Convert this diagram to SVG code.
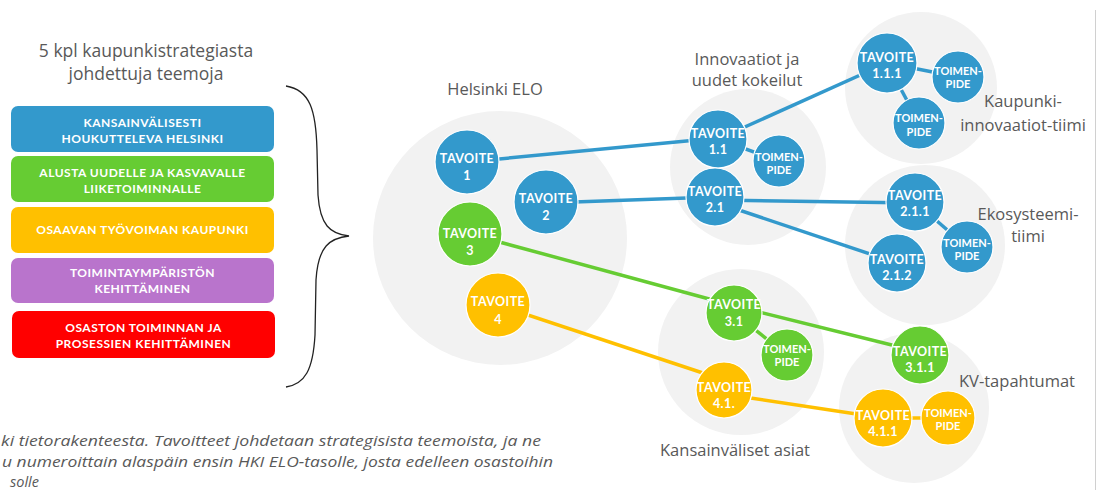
<svg xmlns="http://www.w3.org/2000/svg" width="1104" height="490" viewBox="0 0 1104 490">
<style>
.lbl{font-family:"Open Sans","Liberation Sans",sans-serif;font-size:16.5px;fill:#595959;text-anchor:middle}
.cap{font-family:"Open Sans","Liberation Sans",sans-serif;font-size:14.5px;font-style:italic;fill:#595959}
.bt{font-family:Lato,"Liberation Sans",sans-serif;font-size:12px;font-weight:bold;fill:#fff;text-anchor:middle;letter-spacing:0.5px}
.nt{font-family:Lato,"Liberation Sans",sans-serif;font-size:12.5px;font-weight:bold;fill:#fff;text-anchor:middle;letter-spacing:0.4px}
.tp{font-family:Lato,"Liberation Sans",sans-serif;font-size:11px;font-weight:bold;fill:#fff;text-anchor:middle}
.grp{fill:#f2f2f2}
.b{fill:#3399cc;stroke:#fff;stroke-width:1.2}
.g{fill:#66cc33;stroke:#fff;stroke-width:1.2}
.o{fill:#ffc000;stroke:#fff;stroke-width:1.2}
.lb{stroke:#3399cc;stroke-width:3.5;fill:none}
.lg{stroke:#66cc33;stroke-width:3.5;fill:none}
.lo{stroke:#ffc000;stroke-width:3.5;fill:none}
</style>
<rect width="1104" height="490" fill="#fff"/>
<line x1="1095.5" y1="10" x2="1095.5" y2="490" stroke="#d0d0d0" stroke-width="1"/>

<!-- left column -->
<g id="title">
<text class="lbl" x="146" y="57" style="font-size:17.5px">5 kpl kaupunkistrategiasta</text>
<text class="lbl" x="146" y="80" style="font-size:17.5px">johdettuja teemoja</text>
</g>
<g id="theme1"><rect x="11" y="106" width="263" height="46" rx="7" fill="#3399cc"/>
<text class="bt" x="142.5" y="127">KANSAINVÄLISESTI</text><text class="bt" x="142.5" y="143">HOUKUTTELEVA HELSINKI</text></g>
<g id="theme2"><rect x="11" y="156" width="263" height="46" rx="7" fill="#66cc33"/>
<text class="bt" x="142.5" y="177">ALUSTA UUDELLE JA KASVAVALLE</text><text class="bt" x="142.5" y="193">LIIKETOIMINNALLE</text></g>
<g id="theme3"><rect x="11" y="207" width="263" height="46" rx="7" fill="#ffc000"/>
<text class="bt" x="142.5" y="234">OSAAVAN TYÖVOIMAN KAUPUNKI</text></g>
<g id="theme4"><rect x="11" y="258" width="263" height="45" rx="7" fill="#b974cc"/>
<text class="bt" x="142.5" y="277">TOIMINTAYMPÄRISTÖN</text><text class="bt" x="142.5" y="293">KEHITTÄMINEN</text></g>
<g id="theme5"><rect x="12" y="311" width="263" height="47" rx="7" fill="#ff0000"/>
<text class="bt" x="143.5" y="332">OSASTON TOIMINNAN JA</text><text class="bt" x="143.5" y="348">PROSESSIEN KEHITTÄMINEN</text></g>
<g id="brace"><path d="M286,86 C310,90 316,110 317,150 L318,195 C320,225 330,234 349,236 C330,238 318,246 316,280 L315,335 C313,370 305,384 286,387" fill="none" stroke="#222" stroke-width="1.3"/></g>

<g id="caption">
<text class="cap" x="1" y="446" textLength="540" lengthAdjust="spacingAndGlyphs">ki tietorakenteesta. Tavoitteet johdetaan strategisista teemoista, ja ne</text>
<text class="cap" x="2" y="467" textLength="551" lengthAdjust="spacingAndGlyphs">u numeroittain alaspäin ensin HKI ELO-tasolle, josta edelleen osastoihin</text>
<text class="cap" x="10" y="487">solle</text>
</g>

<!-- group backgrounds -->
<g id="groups">
<circle class="grp" cx="500" cy="238" r="127"/>
<circle class="grp" cx="748" cy="167" r="78"/>
<circle class="grp" cx="921" cy="88" r="76"/>
<circle class="grp" cx="925" cy="245" r="80"/>
<circle class="grp" cx="741" cy="352" r="83"/>
<circle class="grp" cx="914" cy="408" r="75"/>
</g>
<g id="group-labels">
<text class="lbl" x="495" y="95">Helsinki ELO</text>
<text class="lbl" x="747" y="65">Innovaatiot ja</text>
<text class="lbl" x="747" y="86">uudet kokeilut</text>
<text class="lbl" x="1023" y="107">Kaupunki-</text>
<text class="lbl" x="1023" y="131">innovaatiot-tiimi</text>
<text class="lbl" x="1028" y="220">Ekosysteemi-</text>
<text class="lbl" x="1028" y="242">tiimi</text>
<text class="lbl" x="735" y="456">Kansainväliset asiat</text>
<text class="lbl" x="1017" y="387">KV-tapahtumat</text>
</g>

<g id="connectors">
<line class="lb" x1="467" y1="162" x2="718" y2="138"/>
<line class="lb" x1="718" y1="139" x2="887" y2="63"/>
<line class="lb" x1="718" y1="139" x2="779" y2="161"/>
<line class="lb" x1="887" y1="63" x2="958" y2="77"/>
<line class="lb" x1="887" y1="63" x2="919" y2="123"/>
<line class="lb" x1="546" y1="203" x2="715" y2="197"/>
<line class="lb" x1="715" y1="200" x2="915" y2="203"/>
<line class="lb" x1="715" y1="202" x2="897" y2="263"/>
<line class="lb" x1="915" y1="202" x2="967" y2="247"/>
<line class="lg" x1="470" y1="234" x2="735" y2="306"/>
<line class="lg" x1="735" y1="306" x2="920" y2="352"/>
<line class="lg" x1="734" y1="313" x2="787" y2="355"/>
<line class="lo" x1="498" y1="305" x2="724" y2="380"/>
<line class="lo" x1="724" y1="394" x2="883" y2="418"/>
<line class="lo" x1="883" y1="418" x2="948" y2="418"/>
</g>

<g id="t1"><circle class="b" cx="467" cy="162" r="32"/><text class="nt" x="467" y="163">TAVOITE</text><text class="nt" x="467" y="180">1</text></g>
<g id="t2"><circle class="b" cx="546" cy="202" r="32"/><text class="nt" x="546" y="203">TAVOITE</text><text class="nt" x="546" y="220">2</text></g>
<g id="t3"><circle class="g" cx="470" cy="234" r="32"/><text class="nt" x="470" y="238">TAVOITE</text><text class="nt" x="470" y="255">3</text></g>
<g id="t4"><circle class="o" cx="498" cy="305" r="32"/><text class="nt" x="498" y="306">TAVOITE</text><text class="nt" x="498" y="324">4</text></g>

<g id="t11"><circle class="b" cx="718" cy="139" r="29"/><text class="nt" x="718" y="138">TAVOITE</text><text class="nt" x="718" y="154">1.1</text></g>
<g id="tp11"><circle class="b" cx="779" cy="161" r="26"/><text class="tp" x="779" y="161">TOIMEN-</text><text class="tp" x="779" y="174">PIDE</text></g>
<g id="t21"><circle class="b" cx="715" cy="197" r="29"/><text class="nt" x="715" y="196">TAVOITE</text><text class="nt" x="715" y="212">2.1</text></g>

<g id="t111"><circle class="b" cx="887" cy="63" r="30"/><text class="nt" x="887" y="62">TAVOITE</text><text class="nt" x="887" y="78">1.1.1</text></g>
<g id="tp111a"><circle class="b" cx="958" cy="77" r="26"/><text class="tp" x="958" y="75">TOIMEN-</text><text class="tp" x="958" y="88">PIDE</text></g>
<g id="tp111b"><circle class="b" cx="919" cy="123" r="26"/><text class="tp" x="919" y="122">TOIMEN-</text><text class="tp" x="919" y="136">PIDE</text></g>

<g id="t211"><circle class="b" cx="915" cy="202" r="29"/><text class="nt" x="915" y="200">TAVOITE</text><text class="nt" x="915" y="216">2.1.1</text></g>
<g id="t212"><circle class="b" cx="897" cy="263" r="29"/><text class="nt" x="897" y="264">TAVOITE</text><text class="nt" x="897" y="280">2.1.2</text></g>
<g id="tp211"><circle class="b" cx="967" cy="247" r="26"/><text class="tp" x="967" y="247">TOIMEN-</text><text class="tp" x="967" y="260">PIDE</text></g>

<g id="t31"><circle class="g" cx="734" cy="313" r="28"/><text class="nt" x="734" y="309">TAVOITE</text><text class="nt" x="734" y="326">3.1</text></g>
<g id="tp31"><circle class="g" cx="787" cy="355" r="26"/><text class="tp" x="787" y="353">TOIMEN-</text><text class="tp" x="787" y="366">PIDE</text></g>
<g id="t41"><circle class="o" cx="724" cy="390" r="28"/><text class="nt" x="724" y="392">TAVOITE</text><text class="nt" x="724" y="408">4.1.</text></g>

<g id="t311"><circle class="g" cx="920" cy="355" r="29"/><text class="nt" x="920" y="356">TAVOITE</text><text class="nt" x="920" y="372">3.1.1</text></g>
<g id="t411"><circle class="o" cx="883" cy="418" r="29"/><text class="nt" x="883" y="420">TAVOITE</text><text class="nt" x="883" y="436">4.1.1</text></g>
<g id="tp411"><circle class="o" cx="948" cy="418" r="27"/><text class="tp" x="948" y="417">TOIMEN-</text><text class="tp" x="948" y="430">PIDE</text></g>
</svg>
